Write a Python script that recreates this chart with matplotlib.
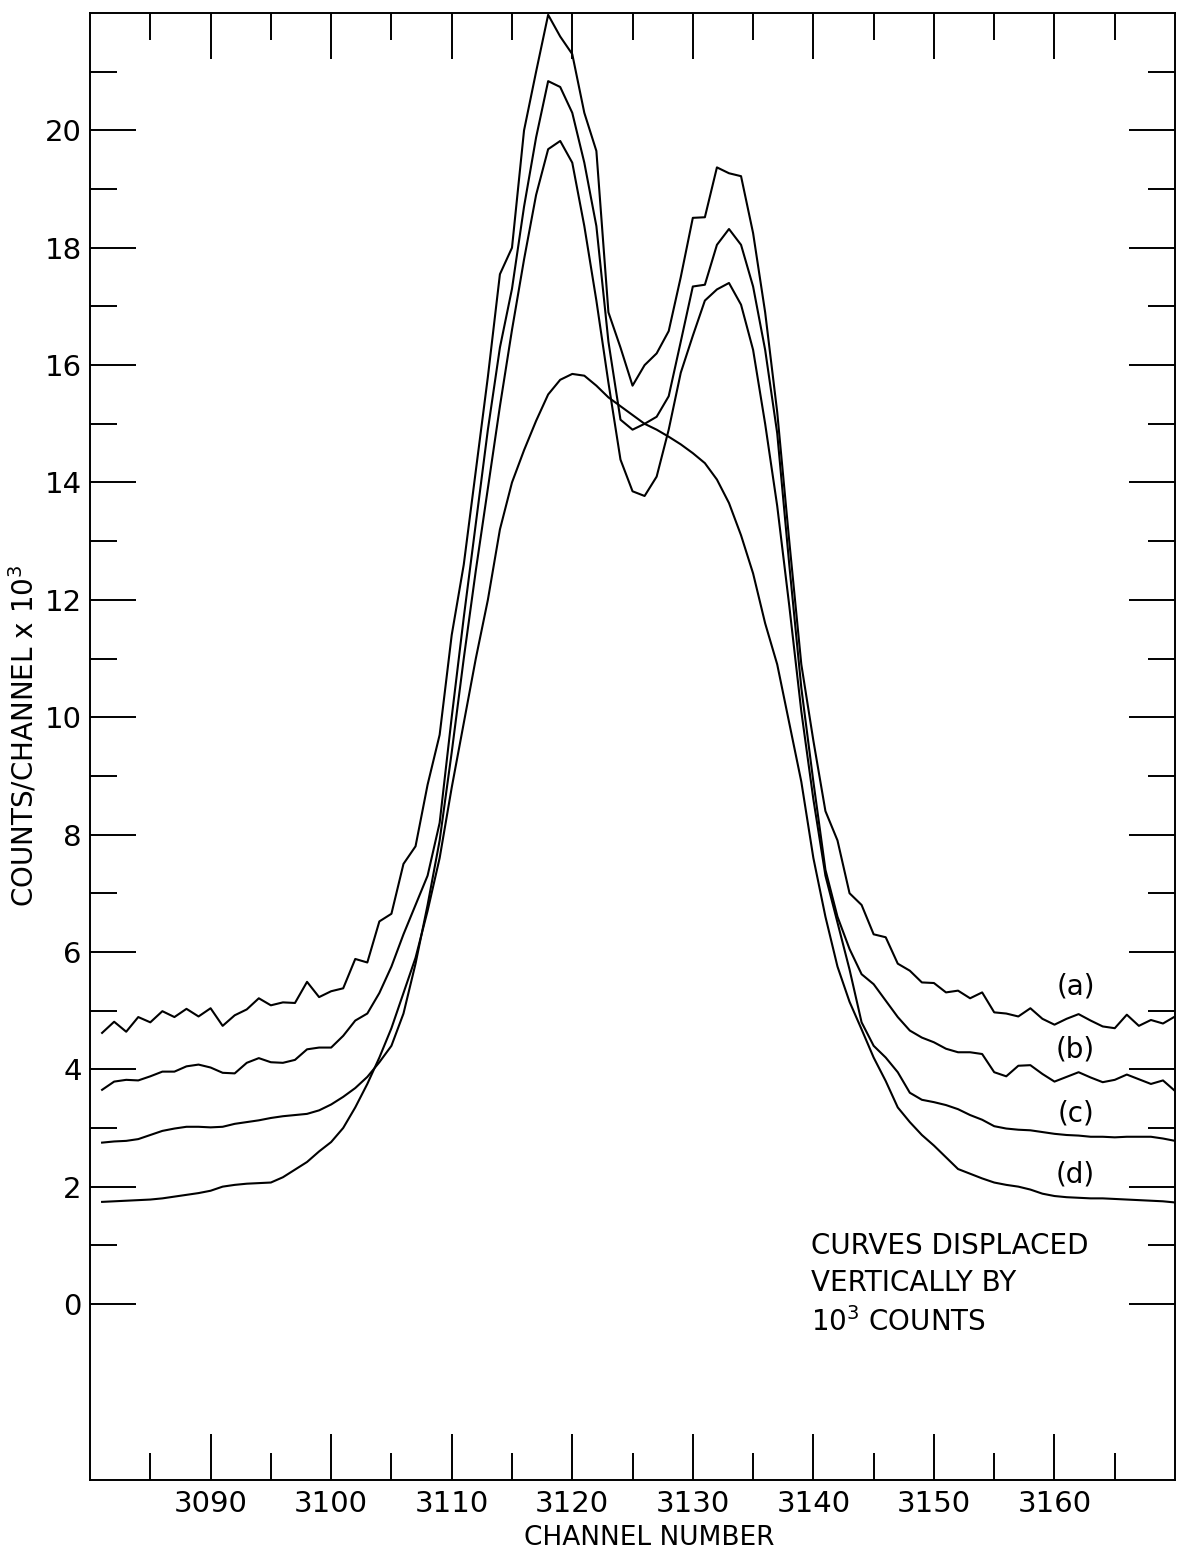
import numpy as np
import matplotlib
matplotlib.use("Agg")
import matplotlib.pyplot as plt

# channel numbers and counts/channel (x 10^3) for the four spectra,
# each curve already offset by 10^3 counts from the one below
channels = np.arange(3081, 3171)

curve_a = [4.62, 4.81, 4.64, 4.89, 4.80, 4.99, 4.89, 5.03, 4.90, 5.04,
           4.74, 4.92, 5.02, 5.21, 5.09, 5.14, 5.13, 5.49, 5.23, 5.33,
           5.38, 5.88, 5.82, 6.52, 6.65, 7.50, 7.80, 8.85, 9.70, 11.40,
           12.60, 14.20, 15.80, 17.55, 18.00, 20.00, 21.00, 21.97, 21.60, 21.30,
           20.30, 19.65, 16.90, 16.30, 15.65, 16.00, 16.20, 16.58, 17.50, 18.51,
           18.52, 19.37, 19.27, 19.22, 18.25, 16.90, 15.20, 13.00, 10.90, 9.60,
           8.40, 7.90, 7.00, 6.80, 6.30, 6.25, 5.80, 5.68, 5.48, 5.47,
           5.31, 5.34, 5.21, 5.31, 4.97, 4.95, 4.90, 5.04, 4.86, 4.76,
           4.86, 4.94, 4.83, 4.73, 4.70, 4.93, 4.74, 4.84, 4.78, 4.90]

curve_b = [3.65, 3.79, 3.82, 3.81, 3.88, 3.96, 3.96, 4.05, 4.08, 4.03,
           3.94, 3.93, 4.11, 4.19, 4.12, 4.11, 4.16, 4.34, 4.37, 4.37,
           4.57, 4.83, 4.95, 5.30, 5.75, 6.30, 6.80, 7.30, 8.20, 10.00,
           11.70, 13.30, 14.90, 16.30, 17.30, 18.70, 19.88, 20.84, 20.74, 20.30,
           19.45, 18.37, 16.40, 15.07, 14.90, 15.00, 15.12, 15.47, 16.40, 17.34,
           17.37, 18.05, 18.32, 18.05, 17.34, 16.26, 14.84, 12.60, 10.50, 8.90,
           7.40, 6.60, 6.05, 5.62, 5.45, 5.17, 4.89, 4.66, 4.54, 4.46,
           4.35, 4.29, 4.29, 4.26, 3.95, 3.88, 4.06, 4.07, 3.92, 3.79,
           3.87, 3.95, 3.86, 3.78, 3.82, 3.91, 3.83, 3.75, 3.81, 3.63]

curve_c = [2.75, 2.77, 2.78, 2.81, 2.88, 2.95, 2.99, 3.02, 3.02, 3.01,
           3.02, 3.07, 3.10, 3.13, 3.17, 3.20, 3.22, 3.24, 3.30, 3.40,
           3.53, 3.68, 3.87, 4.12, 4.40, 4.95, 5.80, 6.80, 7.90, 9.40,
           11.00, 12.50, 13.90, 15.30, 16.60, 17.80, 18.90, 19.68, 19.82, 19.45,
           18.37, 17.10, 15.70, 14.39, 13.85, 13.77, 14.10, 14.90, 15.87, 16.50,
           17.10, 17.29, 17.40, 17.03, 16.26, 15.00, 13.60, 11.90, 10.10, 8.60,
           7.30, 6.50, 5.70, 4.80, 4.40, 4.20, 3.95, 3.60, 3.48, 3.44,
           3.39, 3.32, 3.22, 3.14, 3.03, 2.99, 2.97, 2.96, 2.93, 2.90,
           2.88, 2.87, 2.85, 2.85, 2.84, 2.85, 2.85, 2.85, 2.82, 2.78]

curve_d = [1.74, 1.75, 1.76, 1.77, 1.78, 1.80, 1.83, 1.86, 1.89, 1.93,
           2.00, 2.03, 2.05, 2.06, 2.07, 2.16, 2.29, 2.42, 2.60, 2.76,
           3.00, 3.35, 3.75, 4.20, 4.70, 5.30, 5.90, 6.70, 7.60, 8.80,
           9.90, 11.00, 12.00, 13.20, 14.00, 14.55, 15.05, 15.50, 15.75, 15.85,
           15.82, 15.65, 15.45, 15.30, 15.15, 15.00, 14.90, 14.78, 14.65, 14.50,
           14.33, 14.05, 13.65, 13.10, 12.45, 11.60, 10.90, 9.90, 8.90, 7.60,
           6.60, 5.75, 5.15, 4.68, 4.20, 3.80, 3.35, 3.10, 2.88, 2.70,
           2.50, 2.30, 2.22, 2.14, 2.07, 2.03, 2.00, 1.95, 1.88, 1.84,
           1.82, 1.81, 1.80, 1.80, 1.79, 1.78, 1.77, 1.76, 1.75, 1.73]

curve_names = ['(a)', '(b)', '(c)', '(d)']
name_y = [5.41, 4.33, 3.24, 2.20]

plt.rcParams['font.family'] = 'DejaVu Sans'
plt.rcParams['mathtext.fontset'] = 'dejavusans'

fig = plt.figure(figsize=(11.8, 15.54), dpi=100)
ax = fig.add_axes([0.0763, 0.0476, 0.9195, 0.944])

for y in (curve_a, curve_b, curve_c, curve_d):
    ax.plot(channels, y, color='black', lw=1.5)

ax.set_xlim(3080, 3170)
ax.set_ylim(-3, 22)
ax.set_xticks(range(3090, 3161, 10))
ax.set_xticks(range(3085, 3166, 10), minor=True)
ax.set_yticks(range(0, 21, 2))
ax.set_yticks(range(1, 22, 2), minor=True)
ax.tick_params(which='both', direction='in', top=True, right=True,
               width=1.4, labelsize=21, color='black')
ax.tick_params(which='major', length=33)
ax.tick_params(which='minor', length=19.5)
ax.tick_params(axis='x', pad=7)
ax.tick_params(axis='y', pad=6)
for s in ax.spines.values():
    s.set_linewidth(1.4)

# x label sits on its baseline so the descent stays inside the figure
ax.set_xlabel('CHANNEL NUMBER', fontsize=19, va='baseline')
ax.xaxis.set_label_coords(0.515, -0.0445)
ax.set_ylabel('COUNTS/CHANNEL x 10$^3$', fontsize=20)
ax.yaxis.set_label_coords(-0.047, 0.507)

for name, yv in zip(curve_names, name_y):
    ax.text(3161.75, yv, name, fontsize=20, ha='center', va='center')

ax.text(3139.8, 1.22, 'CURVES DISPLACED\nVERTICALLY BY\n10$^3$ COUNTS',
        fontsize=20, ha='left', va='top', linespacing=1.4)

fig.savefig('out.png', dpi=100, facecolor='white')
